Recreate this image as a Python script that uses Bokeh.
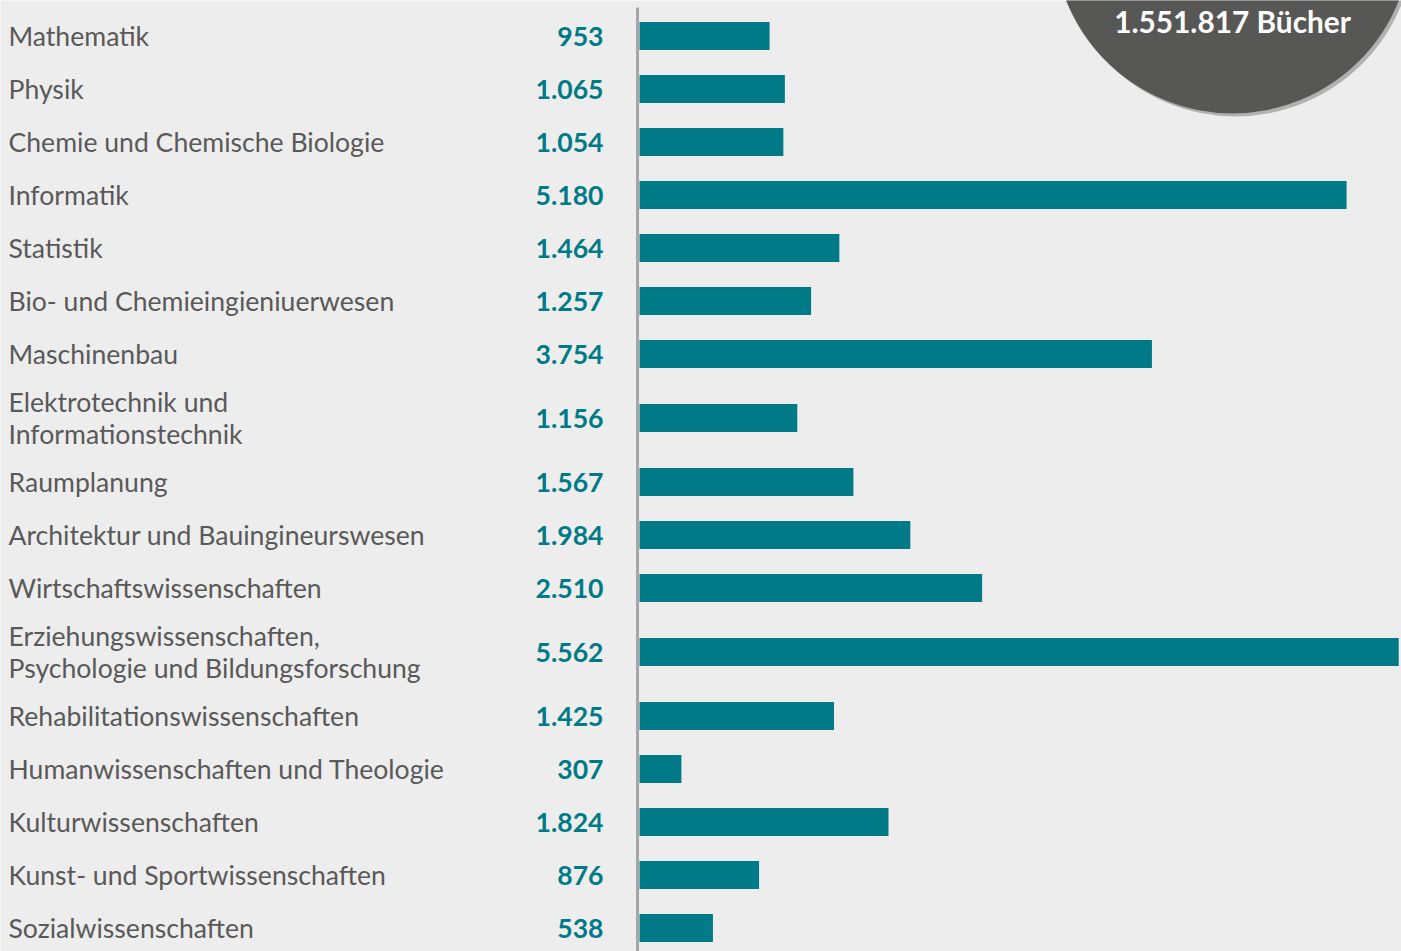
from bokeh.plotting import figure
from bokeh.models import Range1d, ColumnDataSource
from bokeh.core.properties import value
from bokeh.embed import file_html
from bokeh.resources import INLINE

categories = [
    "Mathematik",
    "Physik",
    "Chemie und Chemische Biologie",
    "Informatik",
    "Statistik",
    "Bio- und Chemieingieniuerwesen",
    "Maschinenbau",
    "Elektrotechnik und\nInformationstechnik",
    "Raumplanung",
    "Architektur und Bauingineurswesen",
    "Wirtschaftswissenschaften",
    "Erziehungswissenschaften,\nPsychologie und Bildungsforschung",
    "Rehabilitationswissenschaften",
    "Humanwissenschaften und Theologie",
    "Kulturwissenschaften",
    "Kunst- und Sportwissenschaften",
    "Sozialwissenschaften",
]
values = [953, 1065, 1054, 5180, 1464, 1257, 3754, 1156, 1567, 1984,
          2510, 5562, 1425, 307, 1824, 876, 538]
total_label = "1.551.817 Bücher"

W, H = 1401, 951
BG = "#ededed"
TEAL = "#007a87"
FONT = value("Lato")

# layout: row centres in pixel space (inverted y range), derived from label line counts
single_h, double_h = 53.0, 75.0
row_h = [double_h if "\n" in c else single_h for c in categories]
ys = []
pos = 35.5 - single_h / 2
for h in row_h:
    ys.append(pos + h / 2)
    pos += h

def fmt(v):
    return f"{v:,}".replace(",", ".")

labels = [fmt(v) for v in values]

x0_px = 639.0
scale = 0.1365  # px per book
p = figure(width=W, height=H, output_backend="svg", toolbar_location=None,
           x_range=Range1d(-x0_px / scale, (W - x0_px) / scale),
           y_range=Range1d(H, 0), min_border=0,
           background_fill_color=BG, border_fill_color=BG, outline_line_color=None)
p.extra_x_ranges = {"px": Range1d(0, W)}
p.xaxis.visible = False
p.yaxis.visible = False
p.grid.visible = False

src = ColumnDataSource(dict(cat=categories, val=values, lab=labels, y=ys))

p.hbar(y="y", left=0, right="val", height=28, source=src,
       fill_color=TEAL, line_color=None)

# vertical baseline
p.segment(x0=[637], y0=[7], x1=[637], y1=[H], x_range_name="px",
          line_color="#a6a6a6", line_width=3)

p.text(x=8, y="y", text="cat", source=src, x_range_name="px",
       text_font=FONT, text_font_size="26.6px", text_color="#595959",
       text_align="left", text_baseline="middle", text_line_height=1.0)
p.text(x=603, y="y", text="lab", source=src, x_range_name="px",
       text_font=FONT, text_font_size="26.6px", text_font_style="bold",
       text_color=TEAL, text_align="right", text_baseline="middle")

# total badge
p.circle(x=[1235], y=[-63], radius=179, radius_units="screen", x_range_name="px",
         fill_color="#000000", fill_alpha=0.25, line_color=None)
p.circle(x=[1232], y=[-66], radius=179, radius_units="screen", x_range_name="px",
         fill_color="#575756", line_color=None)
p.text(x=[1232], y=[21], text=[total_label], x_range_name="px",
       text_font=FONT, text_font_size="29.8px", text_font_style="bold",
       text_color="white", text_align="center", text_baseline="middle")

open("out.html", "w").write(file_html(p, INLINE))
